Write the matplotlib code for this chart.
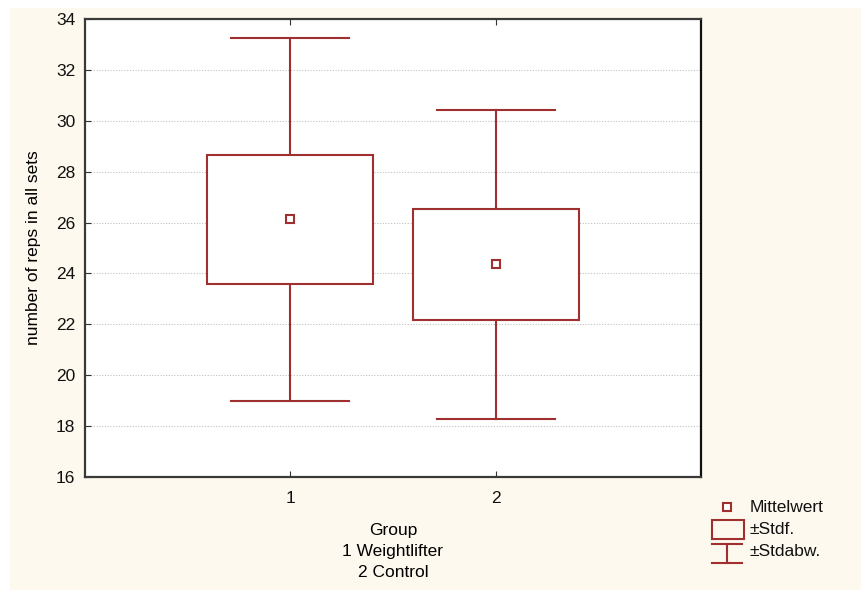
import matplotlib
matplotlib.use("Agg")
import matplotlib.pyplot as plt
from matplotlib.patches import Rectangle
from matplotlib.lines import Line2D

# values
groups = [1, 2]
means = [26.15, 24.37]
se_lo = [23.58, 22.17]
se_hi = [28.65, 26.53]
sd_lo = [18.98, 18.28]
sd_hi = [33.25, 30.42]
y_ticks = [16, 18, 20, 22, 24, 26, 28, 30, 32, 34]

RED = "#A0302F"
CREAM = "#FEF9EE"
FS = 12.5

plt.rcParams["font.family"] = ["Liberation Sans", "DejaVu Sans"]
plt.rcParams["font.size"] = FS

fig = plt.figure(figsize=(8.61, 5.90), dpi=100)
W, H = 861, 590

# cream panel behind everything
fig.patches.append(Rectangle((10 / W, 0), 1 - 10 / W, 1 - 8 / H,
                             transform=fig.transFigure, facecolor=CREAM,
                             edgecolor="none", zorder=-10))

ax = fig.add_axes([85 / W, 1 - 477 / H, (701 - 85) / W, (477 - 19) / H])
ax.set_facecolor("white")
ax.set_xlim(0, 3)
ax.set_ylim(16, 34)
ax.set_yticks(y_ticks)
ax.set_xticks(groups)
ax.tick_params(direction="in", length=4, color="#333333", labelcolor="#111111",
               top=True, labeltop=False, labelsize=FS)
ax.tick_params(axis="x", pad=10)
ax.tick_params(axis="y", pad=7)
ax.grid(axis="y", linestyle=(0, (1, 1.5)), color="#c0c0c0", linewidth=0.8)
ax.set_axisbelow(True)
for s in ax.spines.values():
    s.set_color("#3a3a3a")
    s.set_linewidth(1.6)
ax.spines["right"].set_color("#111111")

box_half = 0.405
cap_half = 0.287
for g, m, blo, bhi, wlo, whi in zip(groups, means, se_lo, se_hi, sd_lo, sd_hi):
    # whiskers (sd)
    ax.plot([g, g], [bhi, whi], color=RED, lw=1.5, zorder=2)
    ax.plot([g, g], [wlo, blo], color=RED, lw=1.5, zorder=2)
    ax.plot([g - cap_half, g + cap_half], [whi, whi], color=RED, lw=1.5, zorder=2)
    ax.plot([g - cap_half, g + cap_half], [wlo, wlo], color=RED, lw=1.5, zorder=2)
    # box (se)
    ax.add_patch(Rectangle((g - box_half, blo), 2 * box_half, bhi - blo,
                           facecolor="white", edgecolor=RED, lw=1.5, zorder=3))
    # mean
    ax.plot([g], [m], marker="s", markersize=6, markerfacecolor="white",
            markeredgecolor=RED, markeredgewidth=1.5, zorder=4)

ax.set_ylabel("number of reps in all sets", fontsize=FS, labelpad=11)
ax.set_xlabel("Group\n1 Weightlifter\n2 Control", fontsize=FS, labelpad=12,
              linespacing=1.5)

# hand-drawn legend in the lower right
def fx(px):
    return px / W

def fy(py):
    return 1 - py / H

fig.add_artist(Line2D([fx(727)], [fy(507)], marker="s", markersize=6,
                      markerfacecolor="white", markeredgecolor=RED,
                      markeredgewidth=1.5, transform=fig.transFigure))
fig.patches.append(Rectangle((fx(712), fy(539)), fx(744) - fx(712), fy(520) - fy(539),
                             transform=fig.transFigure, facecolor="none",
                             edgecolor=RED, lw=1.5))
fig.add_artist(Line2D([fx(712), fx(742)], [fy(544), fy(544)], color=RED, lw=1.5,
                      transform=fig.transFigure))
fig.add_artist(Line2D([fx(712), fx(742)], [fy(563), fy(563)], color=RED, lw=1.5,
                      transform=fig.transFigure))
fig.add_artist(Line2D([fx(727), fx(727)], [fy(544), fy(563)], color=RED, lw=1.5,
                      transform=fig.transFigure))
for label, py in [("Mittelwert", 507), ("±Stdf.", 530), ("±Stdabw.", 552)]:
    fig.text(fx(750), fy(py), label, fontsize=FS, va="center", ha="left",
             color="#111111")

fig.savefig("out.png", dpi=100)
